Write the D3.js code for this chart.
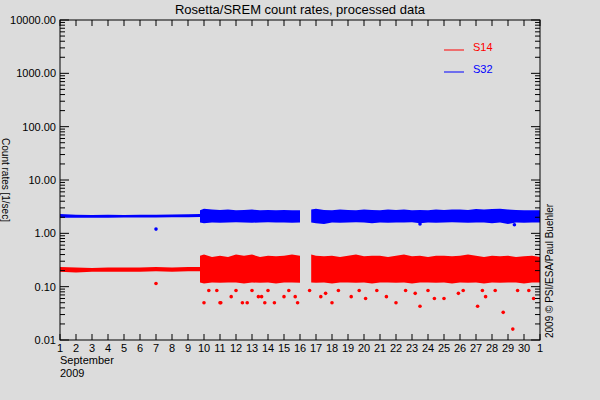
<!DOCTYPE html>
<html><head><meta charset="utf-8">
<script src="https://cdn.jsdelivr.net/npm/d3@7"></script>
<style>body{margin:0;background:#dcdcdc}text{font-family:"Liberation Sans",sans-serif}</style>
</head><body><svg width="600" height="400"></svg>
<script>
// band envelopes, time in day-of-September (31 = Oct 1)
const quietT    = [1, 2, 3, 4, 5, 6, 7, 8, 9, 9.75];
const s32QuietLo = [1.97, 1.96, 1.97, 1.97, 1.98, 1.98, 1.99, 2.0, 2.0, 2.02];
const s32QuietHi = [2.3, 2.22, 2.2, 2.22, 2.2, 2.24, 2.22, 2.25, 2.28, 2.3];
const s14QuietLo = [0.19, 0.185, 0.19, 0.19, 0.19, 0.19, 0.195, 0.19, 0.195, 0.195];
const s14QuietHi = [0.235, 0.23, 0.225, 0.23, 0.23, 0.23, 0.235, 0.23, 0.235, 0.235];

const activeT  = [9.75, 10, 10.5, 11, 11.5, 12, 12.5, 13, 13.5, 14, 14.5, 15, 15.5, 16,
                  16.7, 17, 17.5, 18, 18.5, 19, 19.5, 20, 20.5, 21, 21.5, 22, 22.5, 23, 23.5, 24, 24.5,
                  25, 25.5, 26, 26.5, 27, 27.5, 28, 28.5, 29, 29.5, 30, 30.5, 31];
const s32ActLo = [1.6, 1.55, 1.6, 1.58, 1.6, 1.62, 1.6, 1.58, 1.6, 1.62, 1.6, 1.6, 1.58, 1.6,
                  1.6, 1.55, 1.5, 1.6, 1.58, 1.6, 1.62, 1.6, 1.55, 1.6, 1.58, 1.6, 1.6, 1.62, 1.55, 1.6, 1.58,
                  1.6, 1.62, 1.6, 1.58, 1.6, 1.6, 1.55, 1.6, 1.5, 1.6, 1.58, 1.6, 1.6];
const s32ActHi = [2.7, 2.9, 2.8, 2.75, 2.8, 2.7, 2.75, 2.8, 2.7, 2.75, 2.7, 2.75, 2.7, 2.7,
                  2.8, 2.9, 2.75, 2.7, 2.8, 2.75, 2.7, 2.8, 2.75, 2.7, 2.8, 2.75, 2.8, 2.7, 2.75, 2.7, 2.8,
                  2.75, 2.8, 2.8, 2.75, 2.85, 2.8, 2.85, 2.9, 2.8, 2.75, 2.7, 2.7, 2.7];
const s14ActLo = [0.12, 0.115, 0.12, 0.118, 0.12, 0.12, 0.115, 0.12, 0.118, 0.12, 0.115, 0.12, 0.12, 0.118,
                  0.12, 0.118, 0.12, 0.115, 0.12, 0.12, 0.118, 0.12, 0.115, 0.12, 0.12, 0.118, 0.12, 0.115, 0.12, 0.12, 0.118,
                  0.12, 0.115, 0.12, 0.118, 0.12, 0.115, 0.12, 0.118, 0.12, 0.12, 0.115, 0.12, 0.12];
const s14ActHi = [0.38, 0.4, 0.36, 0.38, 0.36, 0.4, 0.38, 0.4, 0.36, 0.38, 0.37, 0.38, 0.4, 0.38,
                  0.4, 0.38, 0.37, 0.38, 0.36, 0.38, 0.4, 0.37, 0.38, 0.38, 0.36, 0.38, 0.4, 0.37, 0.38, 0.36, 0.38,
                  0.38, 0.37, 0.38, 0.4, 0.38, 0.36, 0.38, 0.37, 0.38, 0.36, 0.37, 0.38, 0.36];

// isolated points
const s32OutT = [7.0, 29.4, 23.5];
const s32OutV = [1.2, 1.45, 1.5];
const s14OutT = [7.0, 10.0, 11.0, 11.05, 11.7, 12.4, 12.7, 13.4, 13.6, 13.8, 14.4, 15.0, 15.7, 15.85,
                 17.3, 17.6, 18.0, 19.2, 20.1, 21.4, 22.0, 23.2, 23.5, 24.4, 25.0, 25.9, 27.1, 27.6, 28.7, 29.3, 30.6,
                 10.3, 10.8, 12.0, 13.0, 14.0, 15.3, 16.6, 18.4, 19.7, 20.8, 22.6, 24.0, 26.2, 27.4, 28.2, 29.6, 30.3];
const s14OutV = [0.115, 0.05, 0.05, 0.05, 0.065, 0.05, 0.05, 0.065, 0.065, 0.05, 0.05, 0.065, 0.065, 0.05,
                 0.065, 0.075, 0.05, 0.065, 0.06, 0.065, 0.05, 0.075, 0.043, 0.06, 0.06, 0.075, 0.043, 0.065, 0.033, 0.016, 0.06,
                 0.085, 0.085, 0.085, 0.085, 0.085, 0.085, 0.085, 0.085, 0.085, 0.085, 0.085, 0.085, 0.085, 0.085, 0.085, 0.085, 0.085];

const dayTicks = d3.range(1, 32);
const dayLabels = dayTicks.map(d => d === 31 ? "1" : String(d));
const yTicks = [0.01, 0.1, 1, 10, 100, 1000, 10000];

const svg = d3.select("svg");
const L = 60, R = 540, T = 20, B = 340;
const x = d3.scaleLinear().domain([1, 31]).range([L, R]);
const y = d3.scaleLog().domain([0.01, 10000]).range([B, T]);

svg.append("rect").attr("width", 600).attr("height", 400).attr("fill", "#dcdcdc");

function band(t, lo, hi, color) {
  const pts = t.map((d, i) => ({t: d, lo: lo[i], hi: hi[i]}));
  const area = d3.area().x(d => x(d.t)).y0(d => y(d.lo)).y1(d => y(d.hi)).curve(d3.curveLinear);
  // gap between Sep 16 and 16.7
  const parts = [pts.filter(d => d.t <= 16), pts.filter(d => d.t > 16)];
  parts.forEach(p => { if (p.length) svg.append("path").attr("d", area(p)).attr("fill", color); });
}
band(quietT, s32QuietLo, s32QuietHi, "#0000ff");
band(activeT, s32ActLo, s32ActHi, "#0000ff");
band(quietT, s14QuietLo, s14QuietHi, "#ff0000");
band(activeT, s14ActLo, s14ActHi, "#ff0000");

svg.selectAll(".o32").data(s32OutT).enter().append("circle")
  .attr("cx", d => x(d)).attr("cy", (d, i) => y(s32OutV[i])).attr("r", 1.8).attr("fill", "#0000ff");
svg.selectAll(".o14").data(s14OutT).enter().append("circle")
  .attr("cx", d => x(d)).attr("cy", (d, i) => y(s14OutV[i])).attr("r", 1.8).attr("fill", "#ff0000");

// axes frame
const ax = svg.append("g").attr("stroke", "#000").attr("stroke-width", 1);
ax.append("rect").attr("x", L).attr("y", T).attr("width", R - L).attr("height", B - T).attr("fill", "none");
const minor = [];
yTicks.slice(0, -1).forEach(v => { for (let k = 2; k <= 9; k++) minor.push(v * k); });
[L, R].forEach((ex, s) => {
  const dir = s === 0 ? 1 : -1;
  yTicks.forEach(v => ax.append("line").attr("x1", ex).attr("x2", ex + dir * 9).attr("y1", y(v)).attr("y2", y(v)));
  minor.forEach(v => ax.append("line").attr("x1", ex).attr("x2", ex + dir * 5).attr("y1", y(v)).attr("y2", y(v)));
});
dayTicks.forEach(d => {
  ax.append("line").attr("x1", x(d)).attr("x2", x(d)).attr("y1", B).attr("y2", B - 6);
  ax.append("line").attr("x1", x(d)).attr("x2", x(d)).attr("y1", T).attr("y2", T + 6);
});

svg.selectAll(".xl").data(dayTicks).enter().append("text")
  .attr("x", d => x(d)).attr("y", B + 12).attr("text-anchor", "middle").attr("font-size", 11)
  .text((d, i) => dayLabels[i]);
svg.selectAll(".yl").data(yTicks).enter().append("text")
  .attr("x", L - 4).attr("y", d => y(d) + 4).attr("text-anchor", "end").attr("font-size", 11)
  .text(d => d.toFixed(2));

svg.append("text").attr("x", 60).attr("y", 364).attr("font-size", 11).text("September");
svg.append("text").attr("x", 60).attr("y", 377).attr("font-size", 11).text("2009");
svg.append("text").attr("x", 300).attr("y", 14).attr("text-anchor", "middle").attr("font-size", 13)
  .text("Rosetta/SREM count rates, processed data");
svg.append("text").attr("transform", "translate(2,180) rotate(90)").attr("text-anchor", "middle")
  .attr("font-size", 10).text("Count rates [1/sec]");
svg.append("text").attr("transform", "translate(553,338) rotate(-90)").attr("font-size", 10)
  .text("2009 © PSI/ESA/Paul Buehler");

// legend
[["S14", "#ff0000", 50], ["S32", "#0000ff", 72]].forEach(([n, c, ly]) => {
  svg.append("line").attr("x1", 444).attr("x2", 464).attr("y1", ly).attr("y2", ly).attr("stroke", c);
  svg.append("text").attr("x", 473).attr("y", ly + 1).attr("font-size", 11).attr("fill", c).text(n);
});
</script></body></html>
